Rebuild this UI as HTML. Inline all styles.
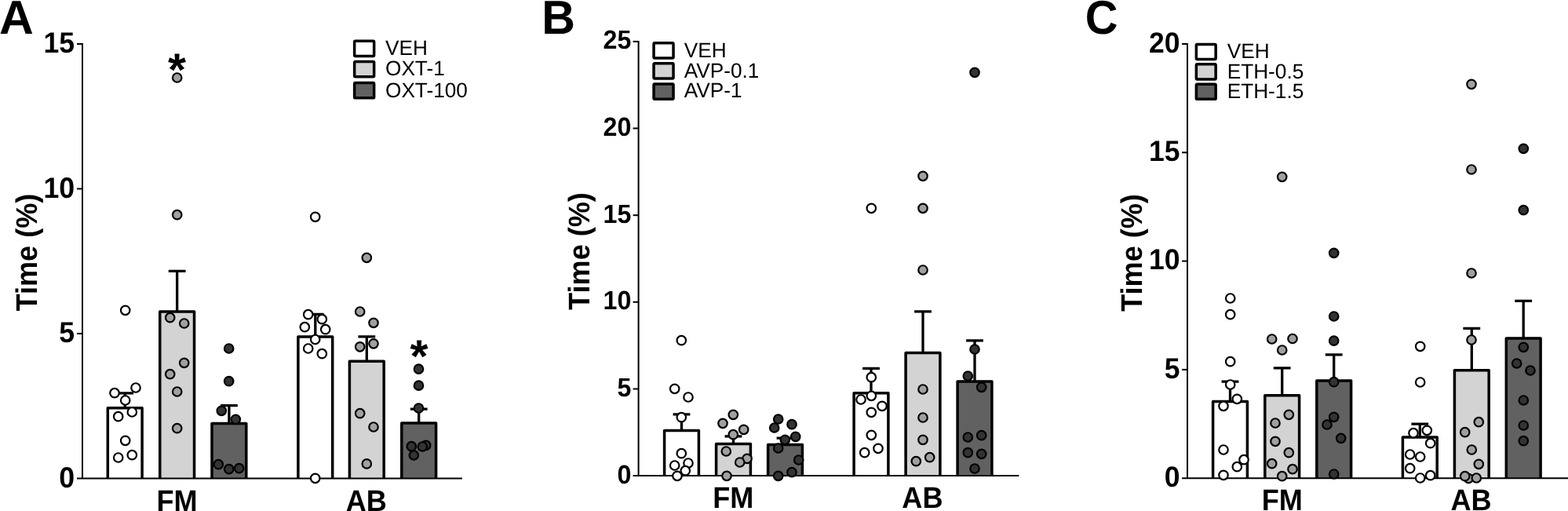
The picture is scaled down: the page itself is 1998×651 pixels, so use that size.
<!DOCTYPE html>
<html lang="en">
<head>
<meta charset="utf-8">
<title>Figure</title>
<style>
html,body{margin:0;padding:0;background:#fff;}
body{width:1998px;height:651px;overflow:hidden;}
svg{display:block;}
text{font-family:"Liberation Sans",Arial,Helvetica,sans-serif;fill:#000;text-rendering:geometricPrecision;}
.b{font-weight:bold;}
.r{font-weight:normal;}
</style>
</head>
<body>
<svg width="1998" height="651" viewBox="0 0 1998 651">
<rect width="1998" height="651" fill="#fff"/>
<g id="panelA">
<path d="M137.3 609.5V519.75H181.1V609.5" fill="white" stroke="#000" stroke-width="3.5" stroke-linejoin="round"/>
<path d="M159.2 519V499.2M148.3 500.85H170.1" fill="none" stroke="#000" stroke-width="3.3"/>
<path d="M203.75 609.5V397.05H247.55V609.5" fill="#d3d3d3" stroke="#000" stroke-width="3.5" stroke-linejoin="round"/>
<path d="M225.65 396.3V343.7M214.75 345.35H236.55" fill="none" stroke="#000" stroke-width="3.3"/>
<path d="M270 609.5V539.45H313.8V609.5" fill="#616161" stroke="#000" stroke-width="3.5" stroke-linejoin="round"/>
<path d="M291.9 538.7V515M281 516.65H302.8" fill="none" stroke="#000" stroke-width="3.3"/>
<path d="M379.9 609.5V428.95H423.7V609.5" fill="white" stroke="#000" stroke-width="3.5" stroke-linejoin="round"/>
<path d="M401.8 428.2V398.7M390.9 400.35H412.7" fill="none" stroke="#000" stroke-width="3.3"/>
<path d="M445.4 609.5V460.15H489.2V609.5" fill="#d3d3d3" stroke="#000" stroke-width="3.5" stroke-linejoin="round"/>
<path d="M467.3 459.4V427.2M456.4 428.85H478.2" fill="none" stroke="#000" stroke-width="3.3"/>
<path d="M511.8 609.5V539.05H555.6V609.5" fill="#616161" stroke="#000" stroke-width="3.5" stroke-linejoin="round"/>
<path d="M533.7 538.3V519.4M522.8 521.05H544.6" fill="none" stroke="#000" stroke-width="3.3"/>
<path d="M105 55V610.5M98 609.5H589" fill="none" stroke="#000" stroke-width="2.0"/>
<text class="b" font-size="37.2" transform="translate(95.2 620.7) scale(0.96 1)" text-anchor="end">0</text>
<path d="M98 425H105" stroke="#000" stroke-width="2.0"/>
<text class="b" font-size="37.2" transform="translate(95.2 436.2) scale(0.96 1)" text-anchor="end">5</text>
<path d="M98 240.5H105" stroke="#000" stroke-width="2.0"/>
<text class="b" font-size="37.2" transform="translate(95.2 251.7) scale(0.96 1)" text-anchor="end">10</text>
<path d="M98 56H105" stroke="#000" stroke-width="2.0"/>
<text class="b" font-size="37.2" transform="translate(95.2 67.2) scale(0.96 1)" text-anchor="end">15</text>
<g fill="#fff" stroke="#000" stroke-width="2.2"><circle cx="159.7" cy="395.3" r="5.75"/><circle cx="146" cy="500.7" r="5.75"/><circle cx="173" cy="494" r="5.75"/><circle cx="159.7" cy="510" r="5.75"/><circle cx="168.3" cy="525" r="5.75"/><circle cx="150.7" cy="530.7" r="5.75"/><circle cx="159.7" cy="561.3" r="5.75"/><circle cx="168.3" cy="579.7" r="5.75"/><circle cx="150.7" cy="583" r="5.75"/></g>
<g fill="#a0a0a0" stroke="#000" stroke-width="2.2"><circle cx="225.7" cy="99" r="5.75"/><circle cx="225.7" cy="273.7" r="5.75"/><circle cx="216.7" cy="404.7" r="5.75"/><circle cx="234.7" cy="412" r="5.75"/><circle cx="234.7" cy="462.3" r="5.75"/><circle cx="216.7" cy="476.7" r="5.75"/><circle cx="225.7" cy="499" r="5.75"/><circle cx="225.7" cy="545.7" r="5.75"/></g>
<g fill="#333333" stroke="#000" stroke-width="2.2"><circle cx="291.7" cy="444" r="5.75"/><circle cx="291.7" cy="485.7" r="5.75"/><circle cx="282.3" cy="523.3" r="5.75"/><circle cx="300.3" cy="534.3" r="5.75"/><circle cx="278.3" cy="591.7" r="5.75"/><circle cx="291.7" cy="597.7" r="5.75"/><circle cx="304.7" cy="596.7" r="5.75"/></g>
<g fill="#fff" stroke="#000" stroke-width="2.2"><circle cx="401.7" cy="276.3" r="5.75"/><circle cx="392.7" cy="400.7" r="5.75"/><circle cx="410.3" cy="406.7" r="5.75"/><circle cx="388.3" cy="416.7" r="5.75"/><circle cx="414.7" cy="419.7" r="5.75"/><circle cx="401.7" cy="432.5" r="5.75"/><circle cx="392.7" cy="444" r="5.75"/><circle cx="410.3" cy="450.7" r="5.75"/><circle cx="401.7" cy="609.3" r="5.75"/></g>
<g fill="#a0a0a0" stroke="#000" stroke-width="2.2"><circle cx="467.3" cy="328.3" r="5.75"/><circle cx="458.7" cy="397" r="5.75"/><circle cx="476" cy="411.3" r="5.75"/><circle cx="476" cy="437.8" r="5.75"/><circle cx="458.7" cy="441.8" r="5.75"/><circle cx="458.7" cy="526.7" r="5.75"/><circle cx="476" cy="544" r="5.75"/><circle cx="467.3" cy="590.9" r="5.75"/></g>
<g fill="#333333" stroke="#000" stroke-width="2.2"><circle cx="533.5" cy="470.2" r="5.75"/><circle cx="533.5" cy="491.2" r="5.75"/><circle cx="533.5" cy="520" r="5.75"/><circle cx="524.3" cy="568.7" r="5.75"/><circle cx="542.7" cy="567.3" r="5.75"/><circle cx="538.3" cy="569" r="5.75"/><circle cx="527.3" cy="580" r="5.75"/></g>
<text class="b" font-size="38" transform="translate(47.1 321.6) rotate(-90) scale(0.95 1)" text-anchor="middle">Time (%)</text>
<text class="b" font-size="38" transform="translate(225.5 650.5) scale(0.95 1)" text-anchor="middle">FM</text>
<text class="b" font-size="38" transform="translate(466.7 650.5) scale(0.95 1)" text-anchor="middle">AB</text>
<text class="b" font-size="60.7" transform="translate(-0.9 42.86)">A</text>
<rect x="451.65" y="52.25" width="25" height="19.3" rx="1.2" fill="#fff" stroke="#000" stroke-width="3.5"/>
<text class="r" font-size="26.6" transform="translate(491 70.3) scale(0.985 1)">VEH</text>
<rect x="451.65" y="78.45" width="25" height="19.3" rx="1.2" fill="#d3d3d3" stroke="#000" stroke-width="3.5"/>
<text class="r" font-size="26.6" transform="translate(491 96.3) scale(0.985 1)">OXT-1</text>
<rect x="451.65" y="105.55" width="25" height="19.3" rx="1.2" fill="#616161" stroke="#000" stroke-width="3.5"/>
<text class="r" font-size="26.6" transform="translate(491 123.5) scale(0.985 1)">OXT-100</text>
<text class="b" font-size="59" transform="translate(225.6 108.76)" text-anchor="middle">*</text>
<text class="b" font-size="59" transform="translate(534 474.26)" text-anchor="middle">*</text>
</g>
<g id="panelB">
<path d="M846.6 606.1V548.45H890.4V606.1" fill="white" stroke="#000" stroke-width="3.5" stroke-linejoin="round"/>
<path d="M868.5 547.7V526.3M857.6 527.95H879.4" fill="none" stroke="#000" stroke-width="3.3"/>
<path d="M912.6 606.1V565.55H956.4V606.1" fill="#d3d3d3" stroke="#000" stroke-width="3.5" stroke-linejoin="round"/>
<path d="M934.5 564.8V554.2M923.6 555.85H945.4" fill="none" stroke="#000" stroke-width="3.3"/>
<path d="M978.6 606.1V566.55H1022.4V606.1" fill="#616161" stroke="#000" stroke-width="3.5" stroke-linejoin="round"/>
<path d="M1000.5 565.8V556.5M989.6 558.15H1011.4" fill="none" stroke="#000" stroke-width="3.3"/>
<path d="M1088.1 606.1V500.75H1131.9V606.1" fill="white" stroke="#000" stroke-width="3.5" stroke-linejoin="round"/>
<path d="M1110 500V467.7M1099.1 469.35H1120.9" fill="none" stroke="#000" stroke-width="3.3"/>
<path d="M1154.1 606.1V449.45H1197.9V606.1" fill="#d3d3d3" stroke="#000" stroke-width="3.5" stroke-linejoin="round"/>
<path d="M1176 448.7V395.3M1165.1 396.95H1186.9" fill="none" stroke="#000" stroke-width="3.3"/>
<path d="M1220.1 606.1V486.05H1263.9V606.1" fill="#616161" stroke="#000" stroke-width="3.5" stroke-linejoin="round"/>
<path d="M1242 485.3V432.3M1231.1 433.95H1252.9" fill="none" stroke="#000" stroke-width="3.3"/>
<path d="M813.6 51.9V607.1M806.6 606.1H1298.3" fill="none" stroke="#000" stroke-width="2.0"/>
<text class="b" font-size="33.6" transform="translate(804.45 615.5) scale(0.96 1)" text-anchor="end">0</text>
<path d="M806.6 495.5H813.6" stroke="#000" stroke-width="2.0"/>
<text class="b" font-size="33.6" transform="translate(804.45 504.9) scale(0.96 1)" text-anchor="end">5</text>
<path d="M806.6 384.8H813.6" stroke="#000" stroke-width="2.0"/>
<text class="b" font-size="33.6" transform="translate(804.45 394.2) scale(0.96 1)" text-anchor="end">10</text>
<path d="M806.6 274.2H813.6" stroke="#000" stroke-width="2.0"/>
<text class="b" font-size="33.6" transform="translate(804.45 283.6) scale(0.96 1)" text-anchor="end">15</text>
<path d="M806.6 163.5H813.6" stroke="#000" stroke-width="2.0"/>
<text class="b" font-size="33.6" transform="translate(804.45 172.9) scale(0.96 1)" text-anchor="end">20</text>
<path d="M806.6 52.9H813.6" stroke="#000" stroke-width="2.0"/>
<text class="b" font-size="33.6" transform="translate(804.45 62.3) scale(0.96 1)" text-anchor="end">25</text>
<g fill="#fff" stroke="#000" stroke-width="2.2"><circle cx="868.3" cy="433.7" r="5.75"/><circle cx="859.7" cy="495.3" r="5.75"/><circle cx="877" cy="506" r="5.75"/><circle cx="868.3" cy="531.7" r="5.75"/><circle cx="868.3" cy="577.7" r="5.75"/><circle cx="859.7" cy="593" r="5.75"/><circle cx="877" cy="590" r="5.75"/><circle cx="873.3" cy="599.7" r="5.75"/><circle cx="863" cy="606.3" r="5.75"/></g>
<g fill="#a0a0a0" stroke="#000" stroke-width="2.2"><circle cx="934.3" cy="528.3" r="5.75"/><circle cx="921" cy="539.3" r="5.75"/><circle cx="947.7" cy="547.3" r="5.75"/><circle cx="934.3" cy="553.7" r="5.75"/><circle cx="925.3" cy="575" r="5.75"/><circle cx="952" cy="584.3" r="5.75"/><circle cx="942.7" cy="589" r="5.75"/><circle cx="926" cy="606.3" r="5.75"/></g>
<g fill="#333333" stroke="#000" stroke-width="2.2"><circle cx="991.7" cy="534" r="5.75"/><circle cx="1009" cy="540.7" r="5.75"/><circle cx="986.7" cy="545" r="5.75"/><circle cx="1013.7" cy="556.3" r="5.75"/><circle cx="1000.3" cy="560.3" r="5.75"/><circle cx="991.7" cy="571" r="5.75"/><circle cx="1017.7" cy="586" r="5.75"/><circle cx="1009" cy="601.7" r="5.75"/><circle cx="991.7" cy="606.3" r="5.75"/></g>
<g fill="#fff" stroke="#000" stroke-width="2.2"><circle cx="1110.3" cy="265.3" r="5.75"/><circle cx="1110.3" cy="480.7" r="5.75"/><circle cx="1110.3" cy="504.3" r="5.75"/><circle cx="1097" cy="509" r="5.75"/><circle cx="1124" cy="517.3" r="5.75"/><circle cx="1110.3" cy="525.3" r="5.75"/><circle cx="1110.3" cy="554.3" r="5.75"/><circle cx="1119" cy="571.3" r="5.75"/><circle cx="1101.7" cy="576.7" r="5.75"/></g>
<g fill="#a0a0a0" stroke="#000" stroke-width="2.2"><circle cx="1176" cy="224.3" r="5.75"/><circle cx="1176" cy="265.3" r="5.75"/><circle cx="1176" cy="344" r="5.75"/><circle cx="1176" cy="496" r="5.75"/><circle cx="1176" cy="532" r="5.75"/><circle cx="1176" cy="560.3" r="5.75"/><circle cx="1184.7" cy="582.7" r="5.75"/><circle cx="1167.3" cy="587.7" r="5.75"/></g>
<g fill="#333333" stroke="#000" stroke-width="2.2"><circle cx="1242" cy="92.3" r="5.75"/><circle cx="1242" cy="445" r="5.75"/><circle cx="1233.3" cy="479" r="5.75"/><circle cx="1250.7" cy="493.3" r="5.75"/><circle cx="1250.7" cy="554.7" r="5.75"/><circle cx="1233.3" cy="557" r="5.75"/><circle cx="1233.3" cy="576.7" r="5.75"/><circle cx="1250.7" cy="578.3" r="5.75"/><circle cx="1242" cy="597" r="5.75"/></g>
<text class="b" font-size="38" transform="translate(751 320) rotate(-90) scale(0.95 1)" text-anchor="middle">Time (%)</text>
<text class="b" font-size="38" transform="translate(934.2 647) scale(0.95 1)" text-anchor="middle">FM</text>
<text class="b" font-size="38" transform="translate(1175.4 647) scale(0.95 1)" text-anchor="middle">AB</text>
<text class="b" font-size="60.7" transform="translate(690.3 42.86) scale(0.975 1)">B</text>
<rect x="833.05" y="54.85" width="25" height="19.2" rx="1.2" fill="#fff" stroke="#000" stroke-width="3.5"/>
<text class="r" font-size="26.6" transform="translate(871.7 73.4) scale(0.985 1)">VEH</text>
<rect x="833.05" y="80.85" width="25" height="19.2" rx="1.2" fill="#d3d3d3" stroke="#000" stroke-width="3.5"/>
<text class="r" font-size="26.6" transform="translate(871.7 98.7) scale(0.985 1)">AVP-0.1</text>
<rect x="833.05" y="107.05" width="25" height="19.2" rx="1.2" fill="#616161" stroke="#000" stroke-width="3.5"/>
<text class="r" font-size="26.6" transform="translate(871.7 124.4) scale(0.985 1)">AVP-1</text>
</g>
<g id="panelC">
<path d="M1545.6 609.2V511.45H1589.4V609.2" fill="white" stroke="#000" stroke-width="3.5" stroke-linejoin="round"/>
<path d="M1567.5 510.7V484.5M1556.6 486.15H1578.4" fill="none" stroke="#000" stroke-width="3.3"/>
<path d="M1611.8 609.2V503.75H1655.6V609.2" fill="#d3d3d3" stroke="#000" stroke-width="3.5" stroke-linejoin="round"/>
<path d="M1633.7 503V467.3M1622.8 468.95H1644.6" fill="none" stroke="#000" stroke-width="3.3"/>
<path d="M1677.8 609.2V484.95H1721.6V609.2" fill="#616161" stroke="#000" stroke-width="3.5" stroke-linejoin="round"/>
<path d="M1699.7 484.2V450.3M1688.8 451.95H1710.6" fill="none" stroke="#000" stroke-width="3.3"/>
<path d="M1787.4 609.2V557.05H1831.2V609.2" fill="white" stroke="#000" stroke-width="3.5" stroke-linejoin="round"/>
<path d="M1809.3 556.3V538.5M1798.4 540.15H1820.2" fill="none" stroke="#000" stroke-width="3.3"/>
<path d="M1853.4 609.2V471.75H1897.2V609.2" fill="#d3d3d3" stroke="#000" stroke-width="3.5" stroke-linejoin="round"/>
<path d="M1875.3 471V416.8M1864.4 418.45H1886.2" fill="none" stroke="#000" stroke-width="3.3"/>
<path d="M1919.3 609.2V431.05H1963.1V609.2" fill="#616161" stroke="#000" stroke-width="3.5" stroke-linejoin="round"/>
<path d="M1941.2 430.3V381.8M1930.3 383.45H1952.1" fill="none" stroke="#000" stroke-width="3.3"/>
<path d="M1513 55V610.2M1506 609.2H1998" fill="none" stroke="#000" stroke-width="2.0"/>
<text class="b" font-size="37" transform="translate(1503.5 620) scale(0.96 1)" text-anchor="end">0</text>
<path d="M1506 470.9H1513" stroke="#000" stroke-width="2.0"/>
<text class="b" font-size="37" transform="translate(1503.5 481.7) scale(0.96 1)" text-anchor="end">5</text>
<path d="M1506 332.6H1513" stroke="#000" stroke-width="2.0"/>
<text class="b" font-size="37" transform="translate(1503.5 343.4) scale(0.96 1)" text-anchor="end">10</text>
<path d="M1506 194.3H1513" stroke="#000" stroke-width="2.0"/>
<text class="b" font-size="37" transform="translate(1503.5 205.1) scale(0.96 1)" text-anchor="end">15</text>
<path d="M1506 56H1513" stroke="#000" stroke-width="2.0"/>
<text class="b" font-size="37" transform="translate(1503.5 66.8) scale(0.96 1)" text-anchor="end">20</text>
<g fill="#fff" stroke="#000" stroke-width="2.2"><circle cx="1567.7" cy="380" r="5.75"/><circle cx="1567.7" cy="400.7" r="5.75"/><circle cx="1567.7" cy="460.7" r="5.75"/><circle cx="1567.7" cy="490" r="5.75"/><circle cx="1576.3" cy="508.3" r="5.75"/><circle cx="1559" cy="517.3" r="5.75"/><circle cx="1559" cy="573" r="5.75"/><circle cx="1585" cy="585.7" r="5.75"/><circle cx="1576.3" cy="594.7" r="5.75"/><circle cx="1559" cy="605.3" r="5.75"/></g>
<g fill="#a0a0a0" stroke="#000" stroke-width="2.2"><circle cx="1633.7" cy="225.3" r="5.75"/><circle cx="1620.7" cy="432" r="5.75"/><circle cx="1647" cy="431.5" r="5.75"/><circle cx="1633.7" cy="446" r="5.75"/><circle cx="1642.3" cy="528.3" r="5.75"/><circle cx="1625" cy="539" r="5.75"/><circle cx="1625" cy="562.3" r="5.75"/><circle cx="1642.3" cy="576.7" r="5.75"/><circle cx="1620.7" cy="590.7" r="5.75"/><circle cx="1647" cy="597.7" r="5.75"/><circle cx="1633.7" cy="606.7" r="5.75"/></g>
<g fill="#333333" stroke="#000" stroke-width="2.2"><circle cx="1699.7" cy="322.3" r="5.75"/><circle cx="1699.7" cy="403" r="5.75"/><circle cx="1699.7" cy="434.1" r="5.75"/><circle cx="1699.7" cy="486.7" r="5.75"/><circle cx="1699.7" cy="531.3" r="5.75"/><circle cx="1691" cy="541" r="5.75"/><circle cx="1708.7" cy="558.3" r="5.75"/><circle cx="1699.7" cy="604" r="5.75"/></g>
<g fill="#fff" stroke="#000" stroke-width="2.2"><circle cx="1809.7" cy="441.3" r="5.75"/><circle cx="1809.7" cy="487" r="5.75"/><circle cx="1818.3" cy="548.3" r="5.75"/><circle cx="1801" cy="551.7" r="5.75"/><circle cx="1822.7" cy="564.7" r="5.75"/><circle cx="1796.7" cy="579" r="5.75"/><circle cx="1809.7" cy="582" r="5.75"/><circle cx="1796.7" cy="596.7" r="5.75"/><circle cx="1822.7" cy="605.7" r="5.75"/><circle cx="1809.7" cy="609" r="5.75"/></g>
<g fill="#a0a0a0" stroke="#000" stroke-width="2.2"><circle cx="1875" cy="107.3" r="5.75"/><circle cx="1875" cy="216" r="5.75"/><circle cx="1875" cy="348" r="5.75"/><circle cx="1875" cy="433" r="5.75"/><circle cx="1884.3" cy="537.7" r="5.75"/><circle cx="1866.7" cy="550.7" r="5.75"/><circle cx="1875.3" cy="573" r="5.75"/><circle cx="1884.3" cy="591.3" r="5.75"/><circle cx="1871.3" cy="609.5" r="5.75"/><circle cx="1866.7" cy="606.7" r="5.75"/><circle cx="1881.3" cy="609" r="5.75"/></g>
<g fill="#333333" stroke="#000" stroke-width="2.2"><circle cx="1941.3" cy="189.3" r="5.75"/><circle cx="1941.3" cy="267.7" r="5.75"/><circle cx="1941.3" cy="442.3" r="5.75"/><circle cx="1932.7" cy="463" r="5.75"/><circle cx="1950" cy="472" r="5.75"/><circle cx="1941.3" cy="510" r="5.75"/><circle cx="1941.3" cy="542" r="5.75"/><circle cx="1941.3" cy="561.7" r="5.75"/></g>
<text class="b" font-size="38" transform="translate(1455 322) rotate(-90) scale(0.95 1)" text-anchor="middle">Time (%)</text>
<text class="b" font-size="38" transform="translate(1633.7 650.3) scale(0.95 1)" text-anchor="middle">FM</text>
<text class="b" font-size="38" transform="translate(1874.5 650.3) scale(0.95 1)" text-anchor="middle">AB</text>
<text class="b" font-size="60.7" transform="translate(1382.8 42.5) scale(0.952 1)">C</text>
<rect x="1524.35" y="56.45" width="24.8" height="19.1" rx="1.2" fill="#fff" stroke="#000" stroke-width="3.5"/>
<text class="r" font-size="26.6" transform="translate(1563.7 74) scale(0.985 1)">VEH</text>
<rect x="1524.35" y="81.85" width="24.8" height="19.1" rx="1.2" fill="#d3d3d3" stroke="#000" stroke-width="3.5"/>
<text class="r" font-size="26.6" transform="translate(1563.7 99.5) scale(0.985 1)">ETH-0.5</text>
<rect x="1524.35" y="107.25" width="24.8" height="19.1" rx="1.2" fill="#616161" stroke="#000" stroke-width="3.5"/>
<text class="r" font-size="26.6" transform="translate(1563.7 124.9) scale(0.985 1)">ETH-1.5</text>
</g>
</svg>
</body>
</html>
